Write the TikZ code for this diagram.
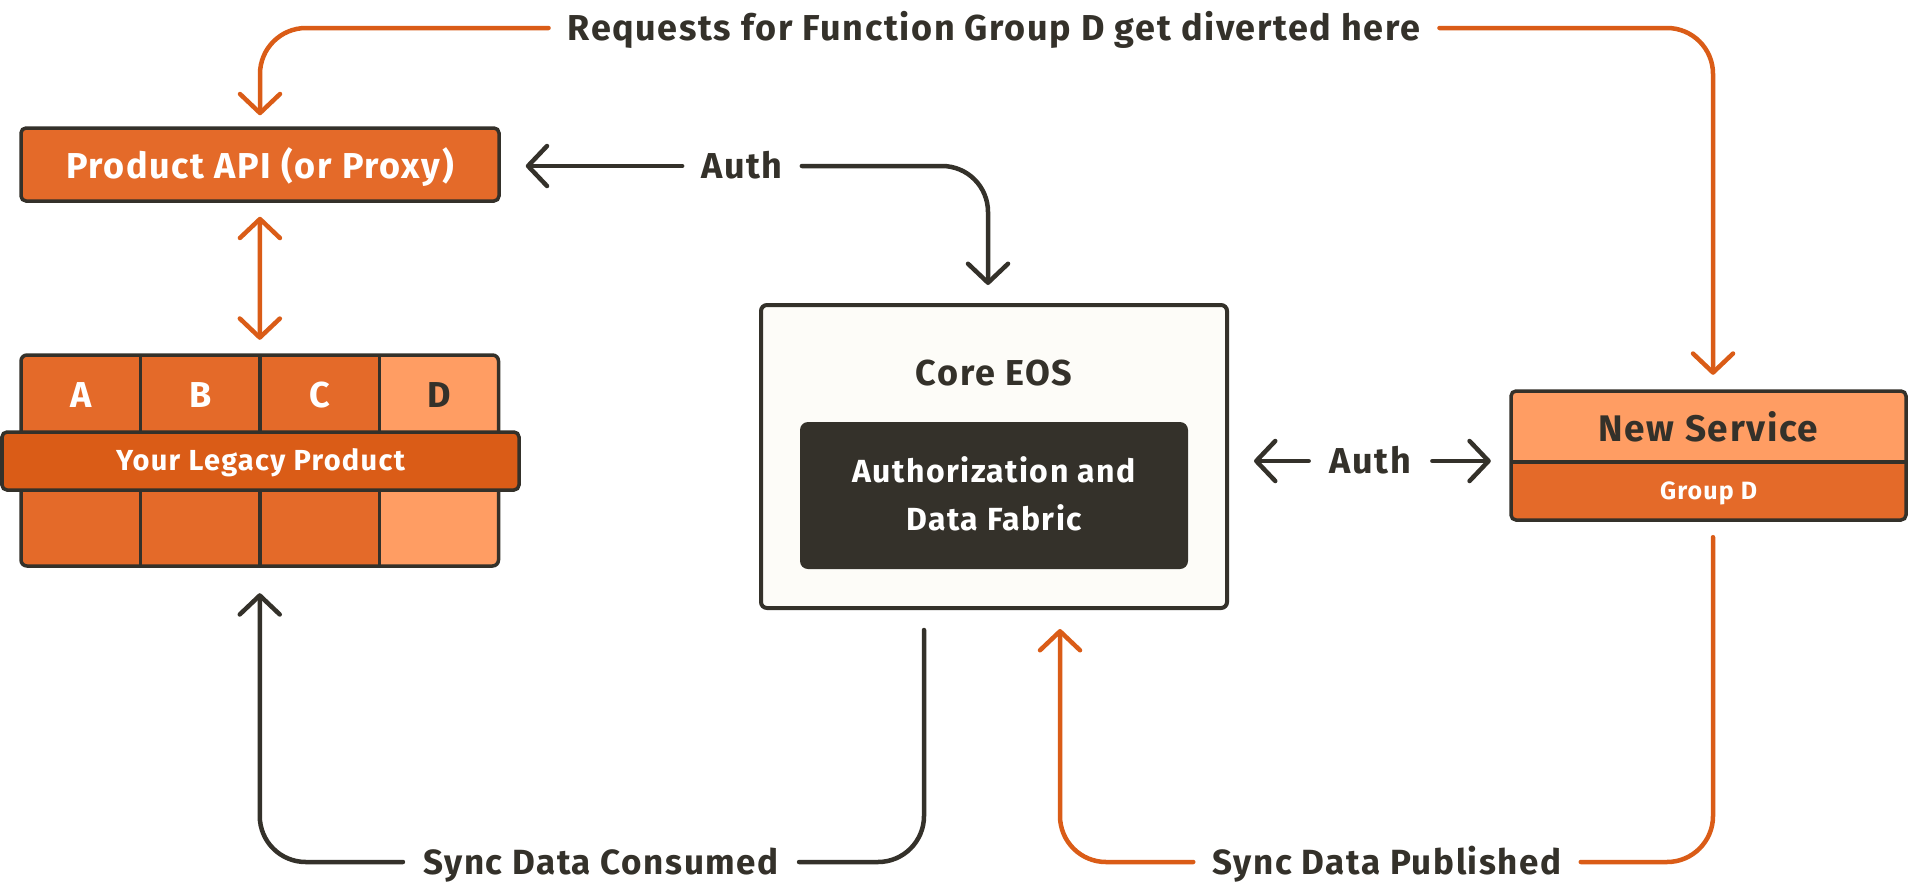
\documentclass[tikz,border=0pt]{standalone}
\usepackage{fontspec}
\setmainfont{Fira Sans}[LetterSpace=4.5]
\usetikzlibrary{arrows.meta}
\definecolor{orangeM}{HTML}{E46A29}
\definecolor{orangeD}{HTML}{DA5C17}
\definecolor{orangeL}{HTML}{FF9D63}
\definecolor{darkc}{HTML}{34312A}
\definecolor{cream}{HTML}{FDFCF8}
\begin{document}
\begin{tikzpicture}[x=1pt,y=-1pt,
  conn/.style={line width=4.5pt, line cap=round, line join=round},
  oconn/.style={conn, draw=orangeD},
  dconn/.style={conn, draw=darkc},
  tipc/.style={-{Straight Barb[length=19pt,width=40pt,round]}},
  bothtip/.style={{Straight Barb[length=19pt,width=40pt,round]}-{Straight Barb[length=19pt,width=40pt,round]}},
  lbl/.style={font=\fontsize{36}{40}\selectfont\bfseries, text=darkc, inner ysep=0pt, inner xsep=19pt, text height=25pt, text depth=0pt},
  boxtxt/.style={inner sep=0pt, text depth=0pt},
  bx/.style={draw=darkc, line width=3.5pt, rounded corners=5pt, inner sep=0pt},
]
\useasboundingbox (0,0) rectangle (1910,886);
\fill[white] (0,0) rectangle (1910,886);

% Product API
\node[bx, fill=orangeM, minimum width=478pt, minimum height=73pt] (api) at (260,164.5) {};
\node[boxtxt, font=\fontsize{36}{40}\selectfont\bfseries, text=white, text height=25pt] (apit) at (260,165.5) {Product API (or Proxy)};

% Legacy grid
\node[inner sep=0pt, minimum width=477.5pt, minimum height=211pt] (legacy) at (259.75,460.5) {};
\begin{scope}
  \clip[rounded corners=6pt] (21,355) rectangle (498.5,566);
  \fill[orangeM] (21,355) rectangle (379.5,566);
  \fill[orangeL] (379.5,355) rectangle (498.5,566);
\end{scope}
\draw[darkc, line width=3.5pt] (140.5,355) -- (140.5,566) (260,355) -- (260,566) (379.5,355) -- (379.5,566);
\draw[darkc, line width=3.5pt, rounded corners=6pt] (21,355) rectangle (498.5,566);
\node[boxtxt, font=\fontsize{36}{40}\selectfont\bfseries, text=white, text height=25pt] (la) at (80.75,394.5) {A};
\node[boxtxt, font=\fontsize{36}{40}\selectfont\bfseries, text=white, text height=25pt] (lb) at (200.25,394.5) {B};
\node[boxtxt, font=\fontsize{36}{40}\selectfont\bfseries, text=white, text height=25pt] (lc) at (319.75,394.5) {C};
\node[boxtxt, font=\fontsize{36}{40}\selectfont\bfseries, text=darkc, text height=25pt] (ld) at (439,394.5) {D};
\node[bx, fill=orangeD, minimum width=517pt, minimum height=58pt] (band) at (260.5,461) {};
\node[boxtxt, font=\fontsize{29}{32}\selectfont\bfseries, text=white, text height=20pt] (bandt) at (260.5,460) {Your Legacy Product};

% Core EOS
\node[draw=darkc, fill=cream, line width=4pt, rounded corners=6pt, inner sep=0pt, minimum width=466pt, minimum height=303pt] (core) at (994,456.5) {};
\node[boxtxt, font=\fontsize{36}{40}\selectfont\bfseries, text=darkc, text height=25pt] (coret) at (994,372.5) {Core EOS};
\node[fill=darkc, rounded corners=8pt, inner sep=0pt, minimum width=388pt, minimum height=147pt] (fabric) at (994,495.5) {};
\node[boxtxt, font=\fontsize{32}{36}\selectfont\bfseries, text=white, text height=22pt] (fab1) at (994,471) {Authorization and};
\node[boxtxt, font=\fontsize{32}{36}\selectfont\bfseries, text=white, text height=22pt] (fab2) at (994,519) {Data Fabric};

% New Service
\node[inner sep=0pt, minimum width=395pt, minimum height=129pt] (ns) at (1708.5,455.5) {};
\begin{scope}
  \clip[rounded corners=5pt] (1511,391) rectangle (1906,520);
  \fill[orangeL] (1511,391) rectangle (1906,462);
  \fill[orangeM] (1511,462) rectangle (1906,520);
\end{scope}
\draw[darkc, line width=3.5pt] (1511,462) -- (1906,462);
\draw[darkc, line width=3.5pt, rounded corners=5pt] (1511,391) rectangle (1906,520);
\node[boxtxt, font=\fontsize{37}{40}\selectfont\bfseries, text=darkc, text height=26pt] (nst) at (1708.5,428) {New Service};
\node[boxtxt, font=\fontsize{25}{28}\selectfont\bfseries, text=white, text height=17pt] (nsg) at (1708.5,490.5) {Group D};

% Labels
\node[lbl] (req) at (994,28) {Requests for Function Group D get diverted here};
\node[lbl] (a1) at (742,166) {Auth};
\node[lbl, inner xsep=21pt] (a2) at (1370.5,461) {Auth};
\node[lbl, font=\fontsize{35}{40}\selectfont\bfseries, text height=24pt, inner xsep=20pt] (sdc) at (601,862) {Sync Data Consumed};
\node[lbl, font=\fontsize{35}{40}\selectfont\bfseries, text height=24pt, inner xsep=19pt] (sdp) at (1387,862) {Sync Data Published};

% Connectors
\draw[oconn, tipc, rounded corners=46pt] (req.west) -| ([yshift=11pt]api.north);
\draw[oconn, tipc, rounded corners=46pt] (req.east) -| ([xshift=4.5pt,yshift=16pt]ns.north);
\draw[oconn, bothtip, shorten <=14pt, shorten >=15pt] (api.south) -- (legacy.north);
\draw[dconn, tipc, shorten >=25pt] (a1.west) -- (a1.west -| api.east);
\draw[dconn, tipc, rounded corners=46pt] (a1.east) -| ([xshift=-6pt,yshift=18pt]core.north);
\draw[dconn, tipc, shorten >=25pt] (a2.west) -- (a2.west -| core.east);
\draw[dconn, tipc, shorten >=20pt] (a2.east) -- (a2.east -| ns.west);
\draw[oconn, rounded corners=46pt] ([xshift=4.5pt,yshift=-17pt]ns.south) |- (sdp.east);
\draw[oconn, tipc, rounded corners=46pt] (sdp.west) -| ([xshift=66pt,yshift=-19pt]core.south);
\draw[dconn, rounded corners=46pt] ([xshift=-70pt,yshift=-20pt]core.south) |- (sdc.east);
\draw[dconn, tipc, rounded corners=46pt] (sdc.west) -| ([yshift=-27pt]legacy.south);
\end{tikzpicture}
\end{document}
